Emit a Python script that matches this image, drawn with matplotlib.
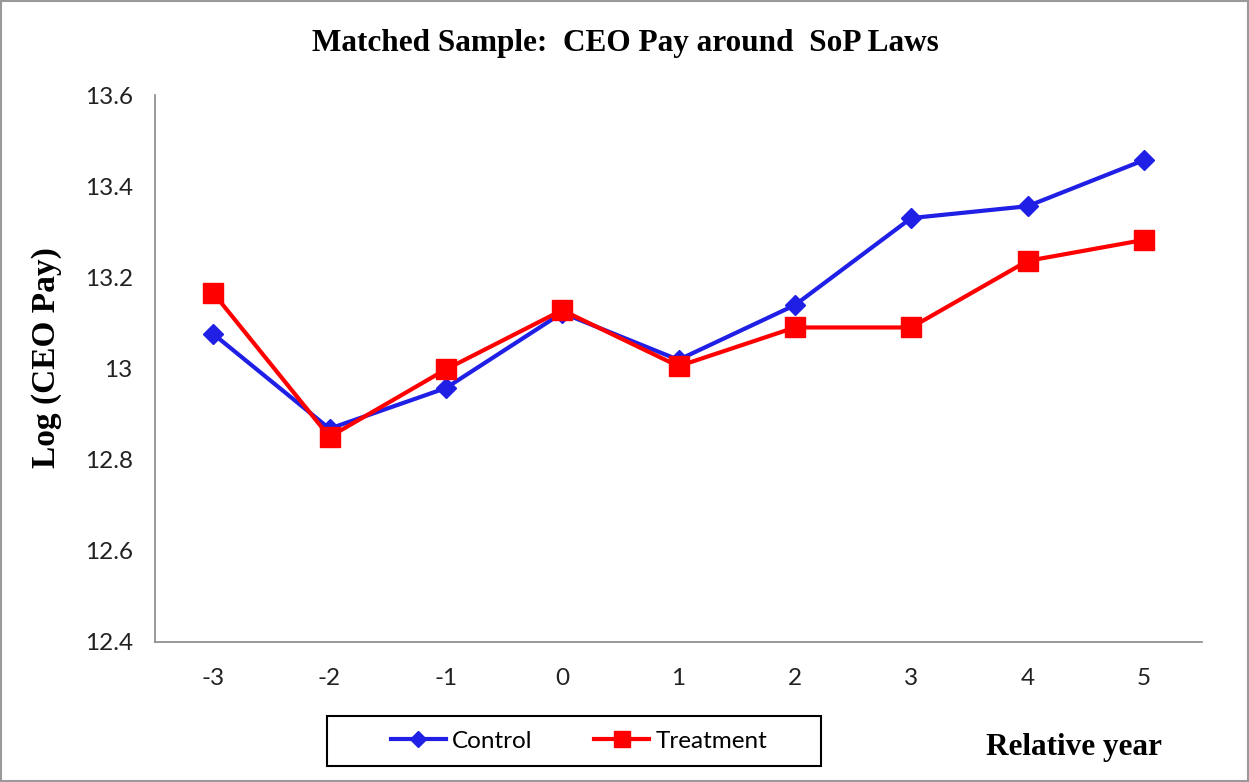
import matplotlib.pyplot as plt
from matplotlib.patches import Rectangle

years = [-3, -2, -1, 0, 1, 2, 3, 4, 5]
control = [13.076, 12.868, 12.957, 13.122, 13.019, 13.139, 13.330, 13.356, 13.457]
treatment = [13.166, 12.850, 12.998, 13.128, 13.005, 13.090, 13.090, 13.236, 13.282]
yticks = [12.4, 12.6, 12.8, 13.0, 13.2, 13.4, 13.6]
ytick_labels = ['12.4', '12.6', '12.8', '13', '13.2', '13.4', '13.6']

plt.rcParams.update({
    'font.family': ['Lato', 'DejaVu Sans'],
    'xtick.labelsize': 17.5,
    'ytick.labelsize': 17.5,
})

W, H = 1249, 782
fig = plt.figure(figsize=(W / 100, H / 100), dpi=100)
ax = fig.add_axes([155 / W, 1 - 642 / H, (1202 - 155) / W, (642 - 95) / H])

ax.plot(years, control, color='#1f1fe6', linewidth=3, marker='D', markersize=10, label='Control')
ax.plot(years, treatment, color='#ff0000', linewidth=3, marker='s', markersize=14, label='Treatment')

ax.set_xlim(-3.5, 5.5)
ax.set_ylim(12.4, 13.6)
ax.set_xticks(years)
ax.set_xticklabels([str(y) for y in years])
ax.set_yticks(yticks)
ax.set_yticklabels(ytick_labels)
ax.tick_params(length=0, colors='#222222')
ax.tick_params(axis='x', pad=19)
ax.tick_params(axis='y', pad=16)

for s in ['top', 'right']:
    ax.spines[s].set_visible(False)
for s in ['left', 'bottom']:
    ax.spines[s].set_color('#888888')
    ax.spines[s].set_linewidth(1.2)

fig.text(625 / W, 1 - 43 / H, 'Matched Sample:  CEO Pay around  SoP Laws',
         ha='center', va='center', family='Liberation Serif', fontweight='bold', fontsize=22.5)
fig.text(47 / W, 1 - 358 / H, 'Log (CEO Pay)', rotation=90,
         ha='center', va='center', family='Liberation Serif', fontweight='bold', fontsize=24)
fig.text(1074 / W, 1 - 748 / H, 'Relative year',
         ha='center', va='center', family='Liberation Serif', fontweight='bold', fontsize=22.5)

# legend entries without frame, box drawn separately to match the wide Excel frame
leg = fig.legend(loc='center', bbox_to_anchor=(579 / W, 1 - 741 / H), ncol=2,
                 fontsize=17.5, frameon=False, handlelength=2.25, handletextpad=0.25,
                 columnspacing=2.55, markerscale=0.8)
fig.patches.append(Rectangle((327 / W, 1 - 766 / H), (821 - 327) / W, 50 / H,
                             transform=fig.transFigure, fill=False,
                             edgecolor='black', linewidth=1.5))

fig.patches.append(Rectangle((0.001, 0.001), 0.998, 0.998, transform=fig.transFigure,
                             fill=False, edgecolor='#999999', linewidth=1.5))

fig.savefig('out.png', dpi=100)
